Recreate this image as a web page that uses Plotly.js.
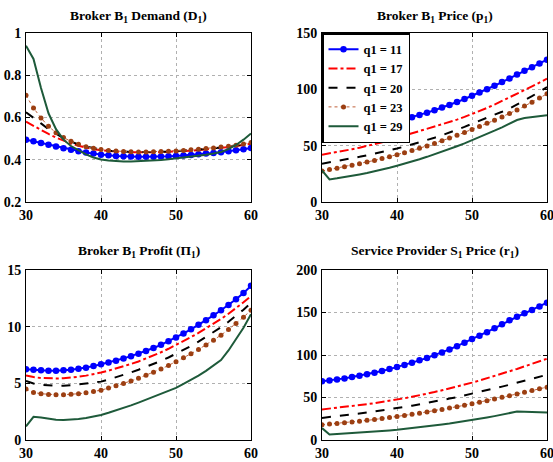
<!DOCTYPE html>
<html><head><meta charset="utf-8">
<script src="https://cdn.plot.ly/plotly-3.0.1.min.js"></script>
<style>html,body{margin:0;padding:0;background:#fff}#chart{width:553px;height:462px}</style>
</head><body><div id="chart"></div>
<script>
const xVals = [30,31,32,33,34,35,36,37,38,39,40,41,42,43,44,45,46,47,48,49,50,51,52,53,54,55,56,57,58,59,60];
const seriesNames = ['q1 = 11','q1 = 17','q1 = 20','q1 = 23','q1 = 29'];

// Broker B1 Demand (D1)
const demand11 = [0.495,0.487,0.479,0.471,0.463,0.455,0.447,0.440,0.434,0.429,0.424,0.421,0.418,0.416,0.415,0.414,0.414,0.414,0.415,0.416,0.418,0.420,0.423,0.426,0.429,0.432,0.436,0.440,0.445,0.450,0.456];
const demand17 = [0.58,0.56,0.54,0.522,0.505,0.49,0.477,0.466,0.457,0.450,0.445,0.441,0.438,0.436,0.435,0.434,0.434,0.435,0.436,0.437,0.439,0.441,0.443,0.446,0.449,0.452,0.456,0.460,0.465,0.470,0.476];
const demand20 = [0.625,0.60,0.572,0.545,0.522,0.502,0.486,0.472,0.462,0.454,0.448,0.443,0.440,0.438,0.437,0.436,0.436,0.437,0.438,0.439,0.441,0.443,0.445,0.448,0.451,0.454,0.458,0.462,0.466,0.471,0.477];
const demand23 = [0.705,0.645,0.598,0.558,0.528,0.505,0.487,0.473,0.462,0.454,0.448,0.444,0.441,0.439,0.438,0.437,0.437,0.438,0.439,0.440,0.442,0.444,0.447,0.450,0.453,0.456,0.460,0.464,0.469,0.475,0.482];
const demand29 = [0.94,0.877,0.74,0.62,0.545,0.495,0.465,0.443,0.425,0.411,0.401,0.396,0.393,0.392,0.392,0.393,0.394,0.396,0.399,0.402,0.406,0.410,0.414,0.419,0.424,0.430,0.437,0.450,0.470,0.495,0.524];

// Broker B1 Price (p1)
const price11 = [58.5,59.4,60.4,61.5,62.6,63.8,65.1,66.5,68.0,69.7,71.5,73.3,75.2,77.2,79.3,81.5,83.8,86.2,88.7,91.4,94.2,97.1,100.1,103.2,106.4,109.7,113.1,116.4,119.7,123.0,126.3];
const price17 = [42,43.1,44.3,45.5,46.8,48.2,49.7,51.3,53.0,54.9,56.9,58.8,60.7,62.6,64.5,66.5,68.6,70.8,73.1,75.5,78.0,80.7,83.5,86.5,89.6,92.8,96.0,99.3,102.6,106.0,109.5];
const price20 = [34,35.1,36.3,37.5,38.8,40.1,41.5,42.9,44.4,45.9,47.5,49.2,51.0,52.9,54.9,57.0,59.2,61.5,64.0,66.7,69.5,72.0,74.6,77.3,80.1,83.0,86.5,90.1,93.9,97.9,102];
const price23 = [27.5,28.8,30.0,31.3,32.6,34.0,35.4,36.9,38.5,40.2,42.0,43.8,45.7,47.7,49.8,52.0,54.3,56.7,59.2,61.7,64.3,67.0,69.8,72.6,75.5,78.5,81.7,85.1,88.6,92.3,96.0];
const price29 = [28,20,21,22,23.2,24.5,25.8,27.2,28.7,30.4,32.2,34,36,38,40.1,42.3,44.6,47,49.5,52,54.7,57.5,60.3,63.3,66.3,69.5,72.8,74.5,75.5,76.3,77];

// Broker B1 Profit (Π1)
const profit11 = [6.25,6.2,6.15,6.12,6.12,6.15,6.2,6.28,6.38,6.52,6.68,6.84,7.0,7.2,7.4,7.62,7.86,8.12,8.4,8.72,9.05,9.4,9.77,10.16,10.57,11.0,11.45,11.92,12.42,12.98,13.6];
const profit17 = [5.7,5.55,5.47,5.43,5.43,5.45,5.5,5.58,5.68,5.8,5.95,6.12,6.3,6.5,6.71,6.93,7.18,7.45,7.74,8.05,8.38,8.72,9.08,9.45,9.84,10.25,10.68,11.14,11.63,12.15,12.7];
const profit20 = [5.2,4.98,4.86,4.8,4.78,4.79,4.83,4.9,4.98,5.06,5.15,5.33,5.52,5.73,5.96,6.2,6.44,6.7,6.98,7.28,7.6,7.95,8.3,8.68,9.08,9.5,9.95,10.44,10.96,11.5,12.1];
const profit23 = [4.5,4.2,4.08,4.02,4.0,4.0,4.03,4.08,4.16,4.27,4.4,4.58,4.78,4.99,5.21,5.45,5.71,5.98,6.27,6.58,6.9,7.25,7.61,7.99,8.39,8.8,9.25,9.75,10.28,10.84,11.45];
const profit29 = [1.2,2.05,1.98,1.85,1.78,1.77,1.8,1.86,1.95,2.06,2.2,2.4,2.6,2.82,3.05,3.3,3.55,3.8,4.05,4.32,4.6,4.95,5.3,5.68,6.1,6.55,7.05,7.9,8.85,9.9,11.1];

// Service Provider S1 Price (r1)
const sprice11 = [69,70,71.2,72.5,74,75.6,77.3,79.2,81.2,83.4,85.8,88.3,90.9,93.7,96.6,99.7,103,106.6,110.4,114.5,118.8,122.6,126.9,131.4,136.1,141,145,149,153,157.2,161.5];
const sprice17 = [36,36.9,37.8,38.8,39.8,40.9,42.1,43.3,44.6,46.0,47.5,49.1,50.8,52.5,54.4,56.4,58.5,60.6,62.8,65.1,67.5,70.0,72.6,75.2,77.9,80.7,83.6,86.6,89.6,92.6,95.6];
const sprice20 = [26,26.9,27.9,28.9,30,31.1,32.3,33.5,34.8,36.1,37.5,38.9,40.4,41.9,43.5,45.2,46.9,48.7,50.5,52.4,54.4,56.4,58.5,60.6,62.8,65.0,67.3,69.6,72.0,74.4,76.8];
const sprice23 = [18,18.7,19.5,20.3,21.2,22.1,23.1,24.1,25.2,26.4,27.6,28.9,30.2,31.6,33.0,34.5,36.0,37.6,39.2,40.9,42.6,44.4,46.3,48.2,50.2,52.2,54.2,56.2,58.2,60.2,62.2];
const sprice29 = [14,6.5,7,7.5,8.1,8.7,9.3,9.9,10.6,11.3,12,12.9,13.9,14.9,16.0,17.1,18.2,19.4,20.7,22.1,23.6,25.0,26.5,28.1,29.8,31.6,33.5,33.3,33.0,32.6,32.3];

const xTicks = [30,40,50,60];
const demandTicks = [0.2,0.4,0.6,0.8,1];
const demandTickText = ['0.2','0.4','0.6','0.8','1'];
const priceTicks = [0,50,100,150];
const profitTicks = [0,5,10,15];
const spriceTicks = [0,50,100,150,200];

const styles = [
  {color:'#0000ff', dash:'solid', width:2, mode:'lines+markers', marker:{size:6.5, color:'#0000ff', symbol:'circle'}},
  {color:'#ff0000', dash:'dashdot', width:2, mode:'lines'},
  {color:'#000000', dash:'dash', width:2, mode:'lines'},
  {color:'#c0603a', dash:'dot', width:1, mode:'lines+markers', marker:{size:5, color:'#9c3f12', symbol:'circle'}},
  {color:'#1e5a3a', dash:'solid', width:2, mode:'lines'}
];

const panels = [
  {x:'x', y:'y', data:[demand11,demand17,demand20,demand23,demand29], legend:false},
  {x:'x2', y:'y2', data:[price11,price17,price20,price23,price29], legend:true},
  {x:'x3', y:'y3', data:[profit11,profit17,profit20,profit23,profit29], legend:false},
  {x:'x4', y:'y4', data:[sprice11,sprice17,sprice20,sprice23,sprice29], legend:false}
];

const traces = [];
panels.forEach(p => {
  p.data.forEach((vals, j) => {
    const s = styles[j];
    const t = {x:xVals, y:vals, xaxis:p.x, yaxis:p.y, name:seriesNames[j], mode:s.mode,
      line:{color:s.color, dash:s.dash, width:s.width}, showlegend:p.legend, hoverinfo:'skip'};
    if (s.marker) t.marker = s.marker;
    traces.push(t);
  });
});

const tickFont = {family:'Liberation Serif', size:14, color:'#000', weight:'bold'};
function xa(dom, anchor){
  return {domain:dom, anchor:anchor, range:[30,60], tickvals:xTicks, showgrid:true, gridcolor:'#b0b0b0', griddash:'dot', gridwidth:1,
    zeroline:false, showline:true, linecolor:'#000', linewidth:1, mirror:'ticks', ticks:'inside', ticklen:4, tickcolor:'#000',
    tickfont:tickFont, fixedrange:true, ticklabelstandoff:0, ticklabeloverflow:'allow'};
}
function ya(dom, anchor, range, tv, tt){
  const a = {domain:dom, anchor:anchor, range:range, tickvals:tv, showgrid:true, gridcolor:'#b0b0b0', griddash:'dot', gridwidth:1,
    zeroline:false, showline:true, linecolor:'#000', linewidth:1, mirror:'ticks', ticks:'inside', ticklen:4, tickcolor:'#000',
    tickfont:tickFont, fixedrange:true, ticklabelstandoff:1, ticklabeloverflow:'allow'};
  if (tt) a.ticktext = tt;
  return a;
}
const W = 553, H = 462;
const xd1 = [26/W, 251/W], xd2 = [322/W, 547/W];
const yd1 = [1-202/H, 1-33/H], yd2 = [1-440/H, 1-270/H];

const titleFont = {family:'Liberation Serif', size:13.5, color:'#000', weight:'bold'};
const layout = {
  width:W, height:H, margin:{l:0,r:0,t:0,b:0}, paper_bgcolor:'#fff', plot_bgcolor:'#fff',
  xaxis: xa(xd1,'y'), yaxis: ya(yd1,'x',[0.2,1],demandTicks,demandTickText),
  xaxis2: xa(xd2,'y2'), yaxis2: ya(yd1,'x2',[0,150],priceTicks),
  xaxis3: xa(xd1,'y3'), yaxis3: ya(yd2,'x3',[0,15],profitTicks),
  xaxis4: xa(xd2,'y4'), yaxis4: ya(yd2,'x4',[0,200],spriceTicks),
  showlegend:true,
  legend:{x:322/W, y:1-33/H, xanchor:'left', yanchor:'top', bgcolor:'#fff', bordercolor:'#000', borderwidth:1.5,
    font:{family:'Liberation Serif', size:12.5, color:'#000', weight:'bold'}, tracegroupgap:0, itemwidth:30},
  annotations:[
    {text:'Broker B<sub>1</sub> Demand (D<sub>1</sub>)', x:(xd1[0]+xd1[1])/2, y:1-16/H},
    {text:'Broker B<sub>1</sub> Price (p<sub>1</sub>)', x:(xd2[0]+xd2[1])/2, y:1-16/H},
    {text:'Broker B<sub>1</sub> Profit (Π<sub>1</sub>)', x:(xd1[0]+xd1[1])/2, y:1-251/H},
    {text:'Service Provider S<sub>1</sub> Price (r<sub>1</sub>)', x:(xd2[0]+xd2[1])/2, y:1-251/H}
  ].map(a => Object.assign({xref:'paper', yref:'paper', showarrow:false, xanchor:'center', yanchor:'middle', font:titleFont}, a))
};

Plotly.newPlot('chart', traces, layout, {staticPlot:true, displayModeBar:false});
</script></body></html>
